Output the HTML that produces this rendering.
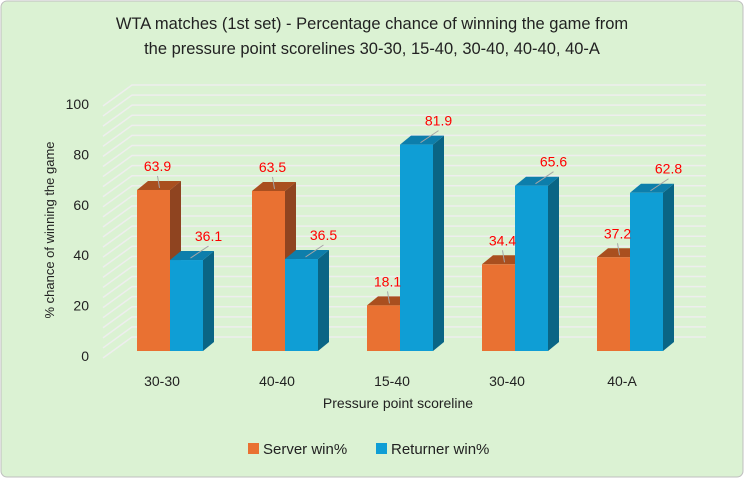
<!DOCTYPE html>
<html><head><meta charset="utf-8"><style>
body{margin:0;background:#fff}
svg{display:block;font-family:"Liberation Sans",sans-serif}
</style></head><body>
<svg width="745" height="479">
<rect x="1" y="1" width="742" height="476" rx="6" fill="#dbf2d3" stroke="#bfbfbf"/>
<text x="372" y="29" text-anchor="middle" font-size="16.5" fill="#222">WTA matches (1st set) - Percentage chance of winning the game from</text>
<text x="372" y="54" text-anchor="middle" font-size="16.5" fill="#222">the pressure point scorelines 30-30, 15-40, 30-40, 40-40, 40-A</text>
<g id="grid"></g>
<g id="yticks"></g>
<g id="bars"></g>
<g id="xlabels"></g>
<text transform="translate(54,230) rotate(-90)" text-anchor="middle" font-size="13" fill="#222">% chance of winning the game</text>
<text x="398" y="408" text-anchor="middle" font-size="14" fill="#222">Pressure point scoreline</text>
<g>
<g><rect x="248" y="443" width="11" height="11" fill="#e97132"/><text x="263" y="454" font-size="15" fill="#222">Server win%</text></g>
<g><rect x="376" y="443" width="11" height="11" fill="#0f9ed5"/><text x="391" y="454" font-size="15" fill="#222">Returner win%</text></g>
</g>
</svg>
<script>
const categories=["30-30","40-40","15-40","30-40","40-A"];
const serverWin=[63.9,63.5,18.1,34.4,37.2];
const returnerWin=[36.1,36.5,81.9,65.6,62.8];
const yTicks=[0,20,40,60,80,100];
const NS="http://www.w3.org/2000/svg";
const Y0=351,PPU=2.52,X0=170,STEP=115,BW=33,DX=11,DY=-9;
const WDX=29,WDY=-21;
function y(v){return Y0-v*PPU;}
function cx(i){return X0+i*STEP;}
function mk(tag,attrs,parent){const e=document.createElementNS(NS,tag);for(const k in attrs)e.setAttribute(k,attrs[k]);parent.appendChild(e);return e;}
const grid=document.getElementById('grid');
for(let v=0;v<=100;v+=4){
  const fy=y(v)+7, by=fy+WDY;
  const l=mk('polyline',{points:`103,${fy} ${103+WDX},${by} 706,${by}`,fill:'none',stroke:'#eeeeee','stroke-width':1.5},grid);
  
  
}
const yt=document.getElementById('yticks');
yTicks.forEach(v=>{
  const t=mk('text',{x:89,y:y(v)+10,'text-anchor':'end','font-size':14,fill:'#222'},yt);
  t.textContent=v;
  
  
});
const bars=document.getElementById('bars');
function bar(x,v,front,top,side,name){
  const g=mk('g',{},bars);
  
  
  const ty=y(v);
  mk('polygon',{points:`${x+BW},${ty} ${x+BW+DX},${ty+DY} ${x+BW+DX},${Y0+DY} ${x+BW},${Y0}`,fill:side},g);
  mk('polygon',{points:`${x},${ty} ${x+DX},${ty+DY} ${x+BW+DX},${ty+DY} ${x+BW},${ty}`,fill:top},g);
  mk('rect',{x:x,y:ty,width:BW,height:Y0-ty,fill:front},g);
}
function label(x,v,lx,name){
  const ty=y(v);
  const l=mk('line',{x1:x,y1:ty-2,x2:lx,y2:ty-14,stroke:'#a6a6a6','stroke-width':1},bars);
  
  
  const t=mk('text',{x:lx,y:ty-19,'text-anchor':'middle','font-size':14,fill:'#ff0000'},bars);
  t.textContent=v;
  
  
}
const xl=document.getElementById('xlabels');
categories.forEach((c,i)=>{
  bar(cx(i)-BW,serverWin[i],'#e97132','#a94f1f','#8f4420','bar-server-'+c);
  bar(cx(i),returnerWin[i],'#0f9ed5','#0d7eab','#0a6585','bar-returner-'+c);
  label(cx(i)-BW/2+6,serverWin[i],cx(i)-BW/2+4,'value-label-server-'+c);
  label(cx(i)+BW/2+4,returnerWin[i],cx(i)+BW/2+22,'value-label-returner-'+c);
  const t=mk('text',{x:cx(i)-8,y:386,'text-anchor':'middle','font-size':14,fill:'#222'},xl);
  t.textContent=c;
  
  
});
</script>
</body></html>
